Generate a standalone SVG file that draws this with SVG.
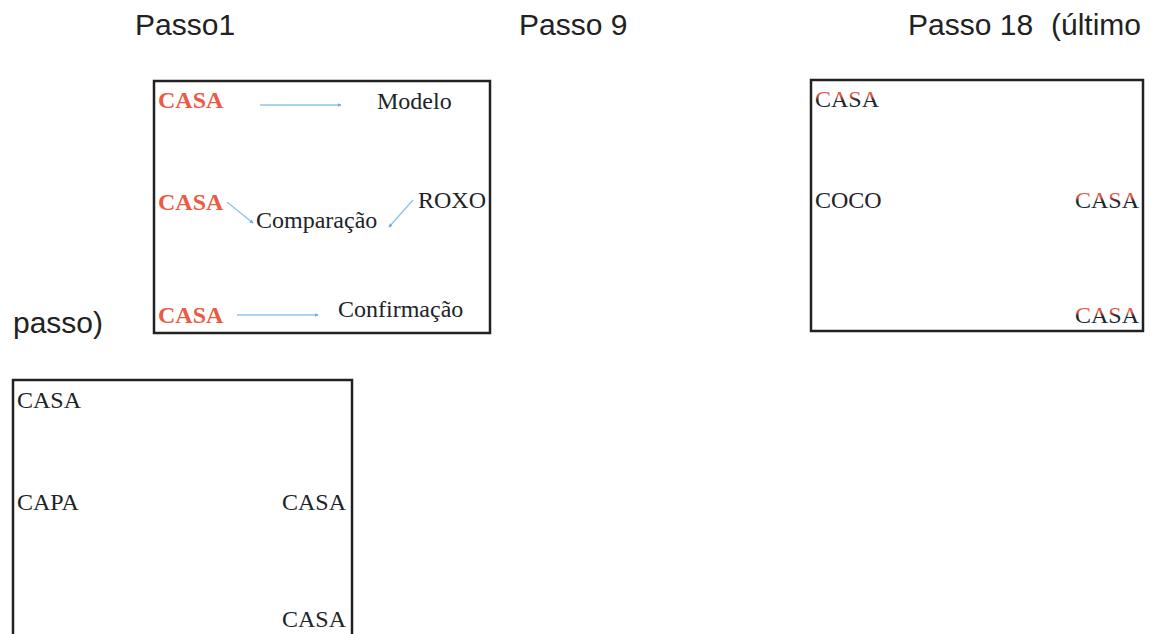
<svg xmlns="http://www.w3.org/2000/svg" width="1152" height="634" viewBox="0 0 1152 634">
<style>
.title{font-family:"Liberation Sans",Arial,sans-serif;font-size:30px;fill:#222}
.box{fill:#fff;stroke:#222;stroke-width:2.5}
.w{font-family:"Liberation Serif","Times New Roman",serif;font-size:24px;fill:#1c2428}
.r{font-family:"Liberation Serif","Times New Roman",serif;font-size:24px;font-weight:bold;fill:#ec5a45}
.g{font-family:"Liberation Serif","Times New Roman",serif;font-size:24px;fill:url(#rg)}
.conn{stroke:#8cc4e8;stroke-width:1.3;fill:none;marker-end:url(#ah)}
</style>
<defs>
<linearGradient id="rg" x1="0" y1="0" x2="0" y2="1">
<stop offset="0" stop-color="#ec5a45"/>
<stop offset="0.38" stop-color="#e0553f"/>
<stop offset="0.55" stop-color="#1c2428"/>
<stop offset="1" stop-color="#1c2428"/>
</linearGradient>
<marker id="ah" viewBox="0 0 6 6" refX="5" refY="3" markerWidth="3" markerHeight="3" orient="auto">
<path d="M0,0 L6,3 L0,6 z" fill="#6aaee0"/>
</marker>
</defs>
<rect width="1152" height="634" fill="#fff"/>
<g id="titles">
<text class="title" x="135" y="35">Passo1</text>
<text class="title" x="519" y="35">Passo 9</text>
<text class="title" x="908" y="35">Passo 18 <tspan x="1051">(último</tspan></text>
<text class="title" x="13" y="333">passo)</text>
</g>
<g id="passo1">
<rect class="box" x="154" y="81" width="336" height="252"/>
<text class="r" x="158" y="108">CASA</text>
<text class="w" x="377" y="109">Modelo</text>
<text class="r" x="158" y="210">CASA</text>
<text class="w" x="256" y="228">Comparação</text>
<text class="w" x="418" y="208">ROXO</text>
<text class="r" x="158" y="323">CASA</text>
<text class="w" x="338" y="317">Confirmação</text>
</g>
<g id="passo18">
<rect class="box" x="811" y="80" width="332" height="251"/>
<text class="g" x="815" y="107">CASA</text>
<text class="w" x="815" y="208">COCO</text>
<text class="g" x="1075" y="208">CASA</text>
<text class="g" x="1075" y="323">CASA</text>
</g>
<g id="passo9">
<rect class="box" x="13" y="380" width="339" height="258"/>
<text class="w" x="17" y="408">CASA</text>
<text class="w" x="17" y="510">CAPA</text>
<text class="w" x="282" y="510">CASA</text>
<text class="w" x="282" y="627">CASA</text>
</g>
<g id="connectors">
<line class="conn" x1="260" y1="105" x2="341" y2="105"/>
<line class="conn" x1="227" y1="202" x2="253" y2="223"/>
<line class="conn" x1="413" y1="200" x2="389" y2="227"/>
<line class="conn" x1="237" y1="315" x2="318" y2="315"/>
</g>
</svg>
